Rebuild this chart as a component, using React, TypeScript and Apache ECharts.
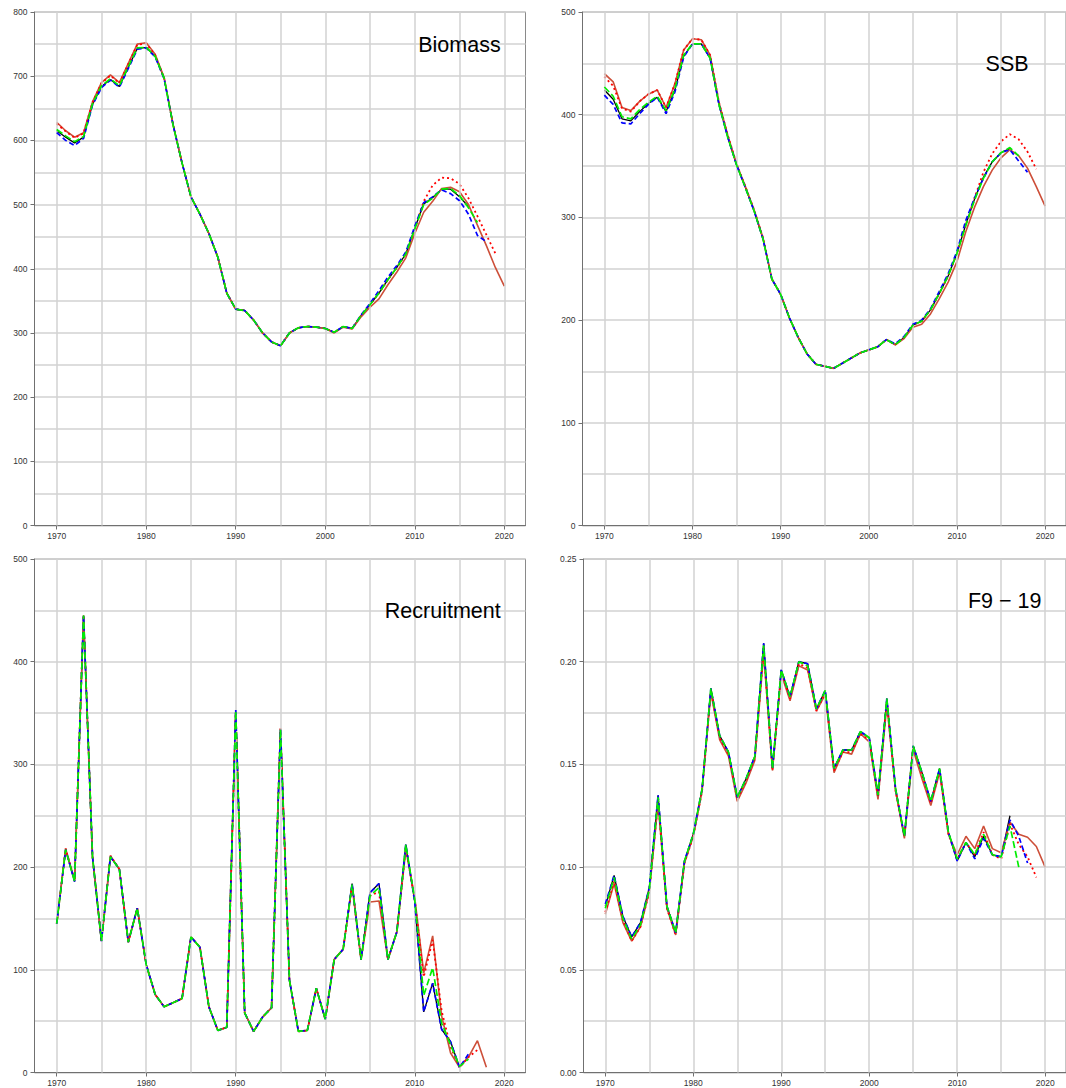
import React, { useEffect, useRef } from "react";
import * as echarts from "echarts";

const YEAR0 = 1970;
const xTickYears = [1970, 1980, 1990, 2000, 2010, 2020];
const xGridYears = [1970, 1975, 1980, 1985, 1990, 1995, 2000, 2005, 2010, 2015, 2020];

// ---------- Biomass ----------
const bioRed = [
  628, 615, 605, 612, 660, 690, 702, 690, 720, 750,
  752, 734, 698, 625, 565, 512, 485, 455, 418, 362,
  337, 335, 320, 300, 286, 280, 300, 308, 310, 309,
  307, 300, 309, 306, 325, 340, 353, 375, 395, 417,
  455, 488, 505, 525, 527, 520, 500, 468, 436, 402, 373,
];
const bioRedDot = [
  626, 614, 604, 611, 659, 689, 701, 689, 719, 749,
  751, 733, 697, 625, 565, 512, 485, 455, 418, 362,
  337, 335, 320, 300, 286, 280, 300, 308, 310, 309,
  307, 301, 310, 307, 327, 344, 362, 383, 402, 423,
  462, 505, 530, 542, 541, 532, 510, 482, 453, 424,
];
const bioBlue = [
  612, 600, 592, 603, 655, 682, 694, 683, 712, 742,
  744, 730, 696, 624, 565, 512, 485, 455, 418, 362,
  337, 335, 320, 300, 286, 280, 300, 308, 310, 309,
  307, 301, 310, 307, 328, 346, 366, 387, 405, 426,
  466, 503, 512, 523, 517, 506, 485, 452, 442,
];
const bioGreen = [
  617, 607, 598, 606, 657, 685, 696, 685, 715, 744,
  745, 731, 697, 624, 565, 512, 485, 455, 418, 362,
  337, 335, 320, 300, 286, 280, 300, 308, 310, 309,
  307, 301, 310, 307, 327, 344, 362, 383, 402, 423,
  462, 500, 510, 524, 525, 514, 495, 472,
];
const bioBlack = [
  615, 605, 596, 605, 656, 684, 695, 684, 714, 743,
  745, 731, 697, 624, 565, 512, 485, 455, 418, 362,
  337, 335, 320, 300, 286, 280, 300, 308, 310, 309,
  307, 301, 310, 307, 327, 344, 362, 383, 402, 423,
  463, 501, 511, 524, 524, 512, 497,
];

// ---------- SSB ----------
const ssbRed = [
  440, 432, 407, 404, 413, 420, 424, 407, 430, 463,
  474, 473, 458, 412, 380, 352, 330, 307, 280, 240,
  225, 202, 183, 167, 157, 155, 153, 158, 163, 168,
  171, 174, 181, 176, 182, 193, 196, 206, 221, 237,
  257, 286, 310, 330, 346, 358, 366, 360, 348, 330, 311,
];
const ssbRedDot = [
  437, 428, 406, 403, 413, 420, 424, 407, 430, 463,
  474, 473, 458, 412, 380, 352, 330, 307, 280, 240,
  225, 202, 183, 167, 157, 155, 153, 158, 163, 168,
  171, 174, 181, 176, 183, 195, 199, 210, 226, 243,
  265, 293, 319, 344, 362, 374, 381, 376, 364, 347,
];
const ssbBlue = [
  419, 410, 392, 391, 401, 410, 417, 401, 422, 456,
  469, 469, 455, 410, 378, 351, 329, 306, 279, 240,
  225, 202, 183, 167, 157, 155, 153, 158, 163, 168,
  171, 174, 181, 177, 184, 196, 200, 211, 228, 245,
  267, 297, 319, 338, 354, 363, 366, 355, 344,
];
const ssbGreen = [
  427, 418, 398, 396, 405, 412, 418, 404, 425, 458,
  469, 469, 455, 410, 378, 351, 329, 306, 279, 240,
  225, 202, 183, 167, 157, 155, 153, 158, 163, 168,
  171, 174, 181, 176, 183, 195, 199, 210, 226, 243,
  265, 292, 317, 338, 354, 363, 368, 360,
];
const ssbBlack = [
  424, 415, 396, 394, 403, 411, 417, 403, 424, 457,
  469, 469, 455, 410, 378, 351, 329, 306, 279, 240,
  225, 202, 183, 167, 157, 155, 153, 158, 163, 168,
  171, 174, 181, 176, 183, 195, 199, 210, 226, 243,
  265, 293, 318, 339, 354, 363, 367,
];

// ---------- Recruitment ----------
const recRed = [
  145, 218, 187, 445, 210, 128, 211, 198, 127, 160,
  105, 76, 64, 68, 72, 132, 122, 64, 41, 44,
  350, 58, 40, 54, 63, 335, 90, 40, 41, 82,
  52, 110, 120, 182, 110, 166, 167, 110, 137, 217,
  170, 97, 133, 55, 19, 5, 15, 31, 5,
];
const recRedDot = [
  145, 218, 187, 445, 210, 128, 211, 198, 127, 160,
  105, 76, 64, 68, 72, 132, 122, 64, 41, 44,
  351, 58, 40, 54, 63, 335, 90, 40, 41, 82,
  52, 110, 120, 182, 110, 172, 176, 110, 137, 219,
  168, 93, 129, 60, 25, 5, 15, 22,
];
const recBlue = [
  145, 217, 186, 445, 210, 128, 210, 198, 127, 160,
  105, 76, 64, 68, 72, 132, 122, 64, 41, 44,
  353, 58, 40, 54, 63, 334, 90, 40, 41, 82,
  52, 110, 120, 184, 110, 175, 184, 110, 137, 222,
  166, 59, 87, 42, 30, 5, 18,
];
const recGreen = [
  145, 217, 186, 445, 210, 128, 210, 198, 127, 160,
  105, 76, 64, 68, 72, 132, 122, 64, 41, 44,
  352, 58, 40, 54, 63, 334, 90, 40, 41, 82,
  52, 110, 120, 183, 110, 172, 180, 110, 137, 222,
  168, 75, 102, 48, 27, 6, 13,
];
const recBlack = [
  145, 217, 186, 445, 210, 128, 210, 198, 127, 160,
  105, 76, 64, 68, 72, 132, 122, 64, 41, 44,
  353, 58, 40, 54, 63, 334, 90, 40, 41, 82,
  52, 110, 120, 184, 110, 175, 184, 110, 137, 222,
  166, 59, 87, 42, 30, 5,
];

// ---------- F9-19 ----------
const fRed = [
  0.077, 0.092, 0.073, 0.064, 0.071, 0.088, 0.131, 0.080, 0.067, 0.102,
  0.115, 0.137, 0.185, 0.162, 0.154, 0.132, 0.141, 0.152, 0.204, 0.147,
  0.194, 0.181, 0.198, 0.196, 0.176, 0.184, 0.146, 0.156, 0.155, 0.165,
  0.161, 0.133, 0.179, 0.137, 0.114, 0.157, 0.143, 0.130, 0.146, 0.116,
  0.106, 0.115, 0.109, 0.120, 0.109, 0.107, 0.122, 0.116, 0.1145, 0.110, 0.100,
];
const fRedDot = [
  0.078, 0.093, 0.074, 0.064, 0.071, 0.088, 0.132, 0.080, 0.067, 0.102,
  0.115, 0.137, 0.186, 0.163, 0.155, 0.133, 0.142, 0.153, 0.206, 0.147,
  0.195, 0.182, 0.199, 0.197, 0.176, 0.185, 0.147, 0.156, 0.156, 0.165,
  0.162, 0.134, 0.181, 0.137, 0.115, 0.159, 0.145, 0.131, 0.147, 0.116,
  0.104, 0.112, 0.106, 0.117, 0.106, 0.104, 0.121, 0.111, 0.105, 0.095,
];
const fBlue = [
  0.082, 0.096, 0.076, 0.066, 0.073, 0.090, 0.135, 0.081, 0.068, 0.103,
  0.116, 0.138, 0.187, 0.164, 0.156, 0.134, 0.143, 0.154, 0.209, 0.148,
  0.196, 0.183, 0.200, 0.199, 0.177, 0.186, 0.148, 0.157, 0.157, 0.166,
  0.163, 0.135, 0.182, 0.138, 0.115, 0.159, 0.146, 0.132, 0.148, 0.117,
  0.103, 0.112, 0.104, 0.114, 0.106, 0.105, 0.123, 0.115, 0.102,
];
const fGreen = [
  0.080, 0.095, 0.075, 0.065, 0.072, 0.089, 0.134, 0.081, 0.068, 0.103,
  0.116, 0.138, 0.187, 0.164, 0.156, 0.134, 0.143, 0.154, 0.208, 0.148,
  0.196, 0.183, 0.200, 0.198, 0.177, 0.186, 0.148, 0.157, 0.157, 0.166,
  0.163, 0.135, 0.182, 0.138, 0.115, 0.159, 0.146, 0.132, 0.148, 0.117,
  0.104, 0.112, 0.106, 0.116, 0.106, 0.105, 0.120, 0.100,
];
const fBlack = [
  0.081, 0.096, 0.076, 0.066, 0.073, 0.090, 0.135, 0.081, 0.068, 0.103,
  0.116, 0.138, 0.187, 0.164, 0.156, 0.134, 0.143, 0.154, 0.209, 0.148,
  0.196, 0.183, 0.200, 0.199, 0.177, 0.186, 0.148, 0.157, 0.157, 0.166,
  0.163, 0.135, 0.182, 0.138, 0.115, 0.159, 0.146, 0.132, 0.148, 0.117,
  0.103, 0.112, 0.105, 0.115, 0.106, 0.105, 0.125,
];

const titles = ["Biomass", "SSB", "Recruitment", "F9 \u2212 19"];

const FONT = '"Liberation Sans", Arial, Helvetica, sans-serif';
const GRID_COLOR = "#d2d2d2";
const AXIS_COLOR = "#707070";

const toPts = (vals: number[]) => vals.map((v, i) => [YEAR0 + i, v]);

export default function App() {
  const ref = useRef<HTMLDivElement>(null);
  useEffect(() => {
    if (!ref.current) return;
    const chart = echarts.init(ref.current, undefined, { renderer: "svg" });

    const panels = [
      { left: 34.5, top: 12, yMax: 800, yInt: 100, fmt: (v: number) => String(v), data: [bioBlack, bioRed, bioRedDot, bioBlue, bioGreen], tx: 500.7, ty: 45 },
      { left: 582.5, top: 12, yMax: 500, yInt: 100, fmt: (v: number) => String(v), data: [ssbBlack, ssbRed, ssbRedDot, ssbBlue, ssbGreen], tx: 1028.6, ty: 64 },
      { left: 34.5, top: 559, yMax: 500, yInt: 100, fmt: (v: number) => String(v), data: [recBlack, recRed, recRedDot, recBlue, recGreen], tx: 500.7, ty: 610.5 },
      { left: 583.5, top: 559, yMax: 0.25, yInt: 0.05, fmt: (v: number) => v.toFixed(2), data: [fBlack, fRed, fRedDot, fBlue, fGreen], tx: 1041.5, ty: 600.5 },
    ];
    const W = 491;
    const H = 513.5;
    const styles = [
      { color: "#000000", type: "solid", width: 1.3 },
      { color: "#cd4f39", type: "solid", width: 1.6 },
      { color: "#ff0000", type: [2, 3], width: 1.8 },
      { color: "#0000ff", type: [5, 3], width: 1.7 },
      { color: "#00ee00", type: [7, 3], width: 1.7 },
    ];

    const grid: any[] = [];
    const xAxis: any[] = [];
    const yAxis: any[] = [];
    const series: any[] = [];
    const graphic: any[] = [];

    panels.forEach((p, i) => {
      grid.push({
        left: p.left, top: p.top, width: W, height: H,
        show: true, borderColor: "#8a8a8a", borderWidth: 1, backgroundColor: "transparent",
        containLabel: false,
      });
      xAxis.push({
        type: "value", gridIndex: i, min: 1967.52, max: 2022.37,
        axisLine: { show: true, onZero: false, lineStyle: { color: AXIS_COLOR, width: 1 } },
        axisTick: { show: true, customValues: xTickYears, length: 4, lineStyle: { color: AXIS_COLOR } },
        axisLabel: {
          show: true, customValues: xTickYears, fontSize: 8.5, color: "#333", margin: 6, fontFamily: FONT,
          formatter: (v: number) => String(Math.round(v)),
        },
        splitLine: { show: false },
      });
      yAxis.push({
        type: "value", gridIndex: i, min: 0, max: p.yMax, interval: p.yInt,
        axisLine: { show: true, onZero: false, lineStyle: { color: AXIS_COLOR, width: 1 } },
        axisTick: { show: true, length: 4, lineStyle: { color: AXIS_COLOR } },
        axisLabel: { fontSize: 8.5, color: "#333", margin: 7, fontFamily: FONT, formatter: p.fmt },
        splitLine: { show: true, lineStyle: { color: GRID_COLOR, width: 1.5 } },
        minorTick: { show: false, splitNumber: 2 },
        minorSplitLine: { show: true, lineStyle: { color: GRID_COLOR, width: 1.5 } },
      });
      series.push({
        type: "line", xAxisIndex: i, yAxisIndex: i, data: [], silent: true, z: 1,
        markLine: {
          silent: true, symbol: ["none", "none"], label: { show: false },
          lineStyle: { color: GRID_COLOR, width: 1.5, type: "solid" },
          emphasis: { disabled: true }, animation: false,
          data: xGridYears.map((y) => ({ xAxis: y })),
        },
      });
      p.data.forEach((vals, k) => {
        series.push({
          type: "line", xAxisIndex: i, yAxisIndex: i, data: toPts(vals),
          showSymbol: false, symbol: "none", silent: true, z: 2 + k,
          lineStyle: styles[k], itemStyle: { color: styles[k].color },
        });
      });
      graphic.push({
        type: "text", x: p.tx, y: p.ty, z: 100,
        style: {
          text: titles[i], fill: "#000", fontSize: 21.5, fontFamily: FONT,
          align: "right", verticalAlign: "middle", textAlign: "right", textVerticalAlign: "middle",
        },
      });
    });

    chart.setOption({
      animation: false,
      backgroundColor: "#ffffff",
      grid, xAxis, yAxis, series, graphic,
    });
    return () => chart.dispose();
  }, []);
  return (
    <div
      ref={ref}
      style={{ position: "absolute", left: 0, top: 0, width: 1066, height: 1088 }}
    />
  );
}
